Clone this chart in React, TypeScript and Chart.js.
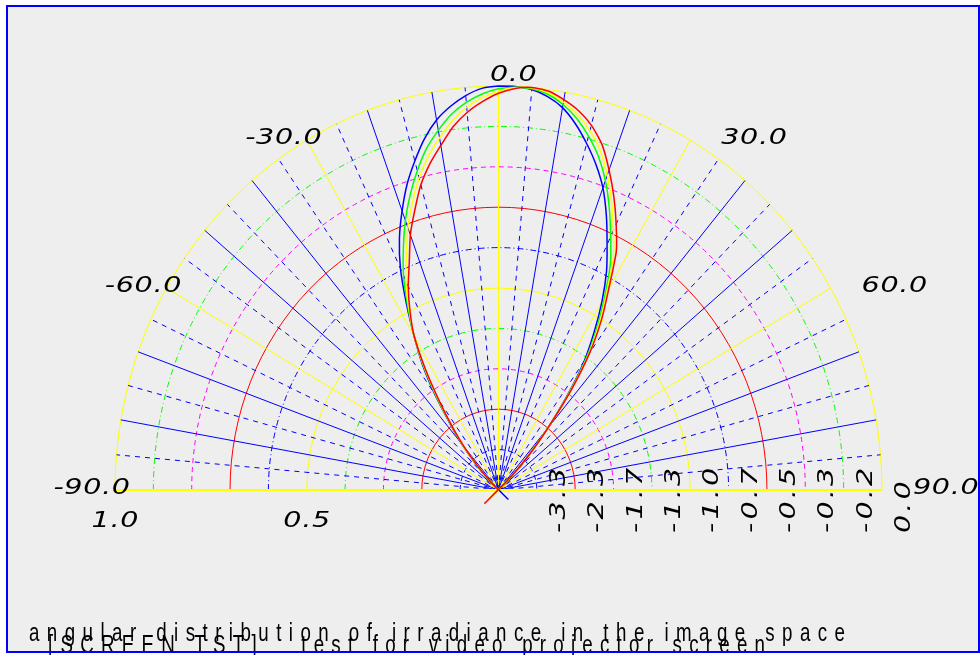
import { useEffect, useRef } from "react";
import { Chart, registerables } from "chart.js";

Chart.register(...registerables);

// ---------- data (angle in degrees from the vertical, radius on a 0..1 scale) ----------
const ANGLES = [
  -47.5, -45, -42.5, -40, -37.5, -35, -32.5, -30, -27.5, -25, -22.5, -20, -17.5, -15, -12.5, -10, -7.5, -5, -2.5,
  0, 2.5, 5, 7.5, 10, 12.5, 15, 17.5, 20, 22.5, 25, 27.5, 30, 32.5, 35, 37.5, 40, 42.5, 45, 47.5,
];
const BLUE_R = [
  -0.035, 0.04, 0.09, 0.15, 0.21, 0.29, 0.37, 0.44, 0.52, 0.605, 0.675, 0.735, 0.793, 0.843, 0.891, 0.93, 0.958, 0.98, 0.995,
  1.0, 1.0, 0.995, 0.982, 0.961, 0.928, 0.888, 0.845, 0.796, 0.735, 0.67, 0.61, 0.54, 0.465, 0.39, 0.295, 0.2, 0.115, 0.05, 0.0,
];
const GREEN_R = [
  0.0, 0.036, 0.086, 0.146, 0.206, 0.282, 0.364, 0.44, 0.512, 0.586, 0.648, 0.71, 0.766, 0.818, 0.866, 0.904, 0.938, 0.963, 0.981,
  0.993, 0.998, 0.997, 0.988, 0.969, 0.942, 0.907, 0.866, 0.815, 0.755, 0.692, 0.632, 0.554, 0.479, 0.4, 0.3, 0.2, 0.117, 0.046, -0.03,
];
const YELLOW_R = [
  0.0, 0.033, 0.083, 0.143, 0.203, 0.276, 0.36, 0.44, 0.506, 0.572, 0.628, 0.691, 0.746, 0.8, 0.846, 0.885, 0.922, 0.951, 0.972,
  0.987, 0.997, 0.999, 0.992, 0.975, 0.952, 0.921, 0.882, 0.829, 0.771, 0.709, 0.649, 0.565, 0.49, 0.408, 0.306, 0.2, 0.118, 0.043, -0.035,
];
const RED_R = [
  0.0, 0.03, 0.08, 0.14, 0.2, 0.27, 0.355, 0.44, 0.5, 0.557, 0.608, 0.672, 0.726, 0.782, 0.827, 0.866, 0.907, 0.938, 0.962,
  0.982, 0.995, 1.0, 0.996, 0.981, 0.962, 0.935, 0.897, 0.843, 0.786, 0.726, 0.665, 0.575, 0.5, 0.415, 0.31, 0.2, 0.12, 0.04, -0.05,
];

// grid / tick definitions
const RING_VALUES = [0.1, 0.2, 0.3, 0.4, 0.5, 0.6, 0.7, 0.8, 0.9, 1.0];
const ANGLE_TICKS = [-90, -60, -30, 0, 30, 60, 90];
const ANGLE_LABELS = ["-90.0", "-60.0", "-30.0", "0.0", "30.0", "60.0", "90.0"];
const LINEAR_TICKS = [1.0, 0.5];
const LINEAR_LABELS = ["1.0", "0.5"];
const LOG_LABELS = ["-3.3", "-2.3", "-1.7", "-1.3", "-1.0", "-0.7", "-0.5", "-0.3", "-0.2", "0.0"];
const TITLE_1 = "angular distribution of irradiance in the image space";
const TITLE_2 = "[SCREEN TST]   test for video projector screen";

// ---------- styles ----------
const W = 980;
const H = 655;
const YELLOW = "#ffff00";
const GREEN = "#00ff00";
const MAGENTA = "#ff00ff";
const RED = "#ff0000";
const BLUE = "#0000ff";
const RING_COLORS = [BLUE, RED, MAGENTA, GREEN, YELLOW, BLUE, RED, MAGENTA, GREEN, YELLOW];
const RING_DASHES: number[][] = [[5, 4], [], [5, 4], [6, 3, 1, 3], [], [6, 3, 1, 3], [], [5, 4], [6, 3, 1, 3], []];
const LABEL_FONT = "italic 22px 'DejaVu Sans'";
const LABEL_STRETCH = 1.3;
const TITLE_FONT = "26px 'Liberation Sans'";
const TITLE_STRETCH = 0.72;

function polarPoints(angles: number[], radii: number[]) {
  return angles.map((a, i) => {
    const t = (a * Math.PI) / 180;
    return { x: radii[i] * Math.sin(t), y: radii[i] * Math.cos(t) };
  });
}

function spokeAngles() {
  const out: number[] = [];
  for (let a = -85; a <= 85; a += 5) out.push(a);
  return out;
}

function stretchedWidth(ctx: CanvasRenderingContext2D, text: string, ls: number, sx: number) {
  (ctx as any).letterSpacing = ls + "px";
  return (ctx.measureText(text).width - ls) * sx;
}

function drawStretched(ctx: CanvasRenderingContext2D, text: string, x: number, y: number, ls: number, sx: number, rot = 0) {
  ctx.save();
  (ctx as any).letterSpacing = ls + "px";
  ctx.translate(x, y);
  if (rot) ctx.rotate(rot);
  ctx.scale(sx, 1);
  ctx.textAlign = "left";
  ctx.fillText(text, 0, 0);
  ctx.restore();
}

function fitText(ctx: CanvasRenderingContext2D, text: string, x: number, y: number, width: number, sx: number) {
  (ctx as any).letterSpacing = "0px";
  const w0 = ctx.measureText(text).width;
  const ls = (width / sx - w0) / (text.length - 1);
  drawStretched(ctx, text, x, y, ls, sx);
}

const polarPlugin = {
  id: "polarPlugin",
  beforeDraw(chart: any) {
    const ctx: CanvasRenderingContext2D = chart.ctx;
    ctx.save();
    ctx.fillStyle = "#ffffff";
    ctx.fillRect(0, 0, W, H);
    ctx.fillStyle = "#eeeeee";
    ctx.fillRect(7, 6, W - 8, H - 9);
    ctx.restore();
  },
  beforeDatasetsDraw(chart: any) {
    const ctx: CanvasRenderingContext2D = chart.ctx;
    const xs = chart.scales.x;
    const ys = chart.scales.y;
    const cx = xs.getPixelForValue(0);
    const cy = ys.getPixelForValue(0);
    ctx.save();
    ctx.lineWidth = 1;
    RING_VALUES.forEach((r, i) => {
      const rx = xs.getPixelForValue(r) - cx;
      const ry = cy - ys.getPixelForValue(r);
      ctx.beginPath();
      ctx.setLineDash(RING_DASHES[i]);
      ctx.strokeStyle = RING_COLORS[i];
      ctx.ellipse(cx, cy, rx, ry, 0, Math.PI, 2 * Math.PI);
      ctx.stroke();
    });
    spokeAngles().forEach((a) => {
      const t = (a * Math.PI) / 180;
      const ex = xs.getPixelForValue(Math.sin(t));
      const ey = ys.getPixelForValue(Math.cos(t));
      if (a % 30 === 0) {
        ctx.strokeStyle = YELLOW;
        ctx.setLineDash([]);
      } else if (a % 10 === 0) {
        ctx.strokeStyle = BLUE;
        ctx.setLineDash([]);
      } else {
        ctx.strokeStyle = BLUE;
        ctx.setLineDash([5, 5]);
      }
      ctx.beginPath();
      ctx.moveTo(cx, cy);
      ctx.lineTo(ex, ey);
      ctx.stroke();
    });
    // baseline (±90°)
    ctx.setLineDash([]);
    ctx.strokeStyle = YELLOW;
    ctx.lineWidth = 2;
    ctx.beginPath();
    ctx.moveTo(xs.getPixelForValue(-1), cy);
    ctx.lineTo(xs.getPixelForValue(1), cy);
    ctx.stroke();
    ctx.restore();
  },
  afterDatasetsDraw(chart: any) {
    const ctx: CanvasRenderingContext2D = chart.ctx;
    const xs = chart.scales.x;
    const ys = chart.scales.y;
    const cy = ys.getPixelForValue(0);
    ctx.save();
    ctx.fillStyle = "#000000";
    ctx.font = LABEL_FONT;
    ctx.textBaseline = "alphabetic";
    const ls = 0.5;
    // angle labels around the outer ring
    ANGLE_TICKS.forEach((a, i) => {
      const t = (a * Math.PI) / 180;
      const ax = xs.getPixelForValue(Math.sin(t));
      const ay = ys.getPixelForValue(Math.cos(t));
      const text = ANGLE_LABELS[i];
      const w = stretchedWidth(ctx, text, ls, LABEL_STRETCH);
      let left: number;
      let base: number;
      if (a < 0) {
        left = ax + 15 - w;
        base = ay + 4;
      } else if (a > 0) {
        left = ax + 31;
        base = ay + 4;
      } else {
        left = ax - 8.5;
        base = ay - 5;
      }
      drawStretched(ctx, text, left, base, ls, LABEL_STRETCH);
    });
    // linear radius labels on the left
    LINEAR_TICKS.forEach((v, i) => {
      const px = xs.getPixelForValue(-v);
      const text = LINEAR_LABELS[i];
      const w = stretchedWidth(ctx, text, ls, LABEL_STRETCH);
      drawStretched(ctx, text, px - w / 2, cy + 37, ls, LABEL_STRETCH);
    });
    // log2 radius labels on the right, rotated
    RING_VALUES.forEach((v, i) => {
      const px = xs.getPixelForValue(v);
      drawStretched(ctx, LOG_LABELS[i], px + 28, cy + 43, 2.4, LABEL_STRETCH, -Math.PI / 2);
    });
    // titles
    ctx.font = TITLE_FONT;
    fitText(ctx, TITLE_1, 29, cy + 151, 816, TITLE_STRETCH);
    fitText(ctx, TITLE_2, 48, cy + 163, 717, TITLE_STRETCH);
    ctx.restore();
  },
  afterDraw(chart: any) {
    const ctx: CanvasRenderingContext2D = chart.ctx;
    ctx.save();
    ctx.strokeStyle = BLUE;
    ctx.lineWidth = 2;
    ctx.setLineDash([]);
    ctx.strokeRect(7, 6, W - 8, H - 9);
    ctx.restore();
  },
};

export default function App() {
  const ref = useRef<HTMLCanvasElement>(null);
  useEffect(() => {
    const line = (radii: number[], color: string) => ({
      data: polarPoints(ANGLES, radii),
      showLine: true,
      borderColor: color,
      backgroundColor: color,
      borderWidth: 1.5,
      pointRadius: 0,
      tension: 0.2,
      fill: false,
      clip: false as any,
    });
    const chart = new Chart(ref.current!, {
      type: "scatter",
      data: {
        datasets: [line(RED_R, RED), line(YELLOW_R, YELLOW), line(GREEN_R, GREEN), line(BLUE_R, BLUE)],
      },
      options: {
        animation: false,
        responsive: false,
        devicePixelRatio: 1,
        events: [],
        layout: { padding: { left: 115, right: 98, top: 86, bottom: 165 } },
        scales: {
          x: { type: "linear", min: -1, max: 1, display: false },
          y: { type: "linear", min: 0, max: 1, display: false },
        },
        plugins: { legend: { display: false }, tooltip: { enabled: false } },
      },
      plugins: [polarPlugin],
    });
    return () => chart.destroy();
  }, []);
  return (
    <div style={{ position: "absolute", left: 0, top: 0, width: W, height: H }}>
      <canvas ref={ref} width={W} height={H} style={{ width: W, height: H, display: "block" }} />
    </div>
  );
}
